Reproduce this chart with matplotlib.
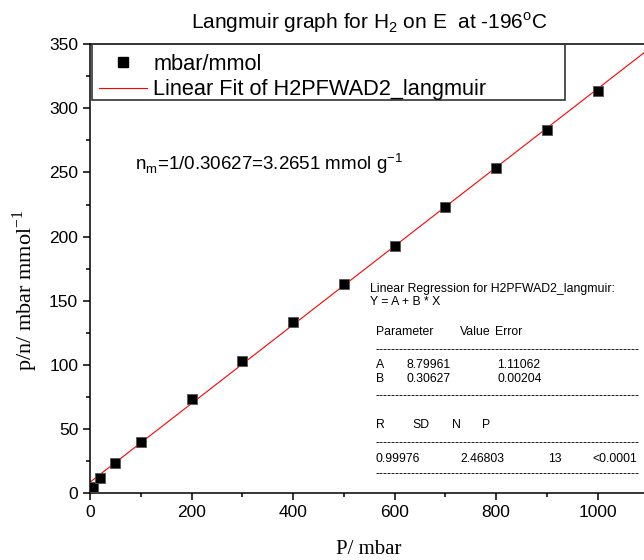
import numpy as np
import matplotlib
matplotlib.use("Agg")
from matplotlib import pyplot as plt
from matplotlib.patches import Rectangle
from matplotlib.ticker import MultipleLocator

plt.rcParams['font.family'] = ['Liberation Sans', 'DejaVu Sans']

# pressure (mbar) and p/n (mbar/mmol)
pressure = [5, 20, 50, 100, 200, 300, 400, 500, 600, 700, 800, 900, 1000]
p_over_n = [4.8, 12.3, 24.0, 40.3, 73.6, 103.5, 133.8, 162.9, 192.8, 223.4, 253.3, 283.1, 313.7]

# fit results
A, A_err = 8.79961, 1.11062
B, B_err = 0.30627, 0.00204
R, SD, N, P = 0.99976, 2.46803, 13, "<0.0001"

fig = plt.figure(figsize=(6.44, 5.6), dpi=100)
ax = fig.add_axes([0.1398, 0.1188, 0.8668, 0.8027])

xfit = np.array([0, 1100])
ax.plot(xfit, A + B * xfit, color="red", lw=0.8, zorder=2)
ax.plot(pressure, p_over_n, "s", color="black", mec="#555555", mew=0.6, ms=7, zorder=3)

ax.set_xlim(0, 1100)
ax.set_ylim(0, 350)
ax.xaxis.set_major_locator(MultipleLocator(200))
ax.xaxis.set_minor_locator(MultipleLocator(100))
ax.yaxis.set_major_locator(MultipleLocator(50))
ax.yaxis.set_minor_locator(MultipleLocator(25))
ax.tick_params(which="both", direction="out", width=1.1, labelsize=12.5, top=False, right=False)
ax.tick_params(which="major", length=5)
ax.tick_params(which="minor", length=3)
ax.set_xticks([0, 200, 400, 600, 800, 1000])
for s in ax.spines.values():
    s.set_linewidth(1.1)

ax.set_xlabel("P/ mbar", family="Liberation Serif", fontsize=15, labelpad=14)
fig.text(0.039, 0.482, r"p/n/ mbar mmol$^{\mathregular{-1}}$", family="Liberation Serif",
         fontsize=16, rotation=90, ha="center", va="center")
fig.text(0.573, 0.948, r"Langmuir graph for H$_{\mathregular{2}}$ on E  at -196$^{\mathregular{o}}$C",
         ha="center", va="baseline", fontsize=15)

# legend with its own frame
ax.add_patch(Rectangle((4, 306.5), 932, 43.5, fill=False, ec="#333333", lw=1.2, zorder=4))
handles = [plt.Line2D([], [], ls="none", marker="s", color="black", ms=7),
           plt.Line2D([], [], color="red", lw=0.8)]
ax.legend(handles, ["mbar/mmol", "Linear Fit of H2PFWAD2_langmuir"], frameon=False,
          loc="upper left", bbox_to_anchor=(-0.001, 1.0), fontsize=15.7, handlelength=2.2,
          handletextpad=0.28, labelspacing=0.2, borderpad=0.1, borderaxespad=0.35)

ax.text(88, 257, r"n$_{\mathregular{m}}$=1/0.30627=3.2651 mmol g$^{\mathregular{-1}}$",
        fontsize=13.5, va="center")

# regression report
fs = 8.8
dash = "-" * 66
ax.text(552, 159, "Linear Regression for H2PFWAD2_langmuir:", fontsize=fs, va="center")
ax.text(552, 149, "Y = A + B * X", fontsize=fs, va="center")
ax.text(563, 126, "Parameter", fontsize=fs, va="center")
ax.text(729, 126, "Value", fontsize=fs, va="center")
ax.text(798, 126, "Error", fontsize=fs, va="center")
ax.text(563, 112, dash, fontsize=fs, va="center")
for y, name, val, err in [(100, "A", A, A_err), (89.5, "B", B, B_err)]:
    ax.text(563, y, name, fontsize=fs, va="center")
    ax.text(623, y, f"{val:.5f}", fontsize=fs, va="center")
    ax.text(802, y, f"{err:.5f}", fontsize=fs, va="center")
ax.text(563, 75.5, dash, fontsize=fs, va="center")
for x, s in [(563, "R"), (636, "SD"), (713, "N"), (772, "P")]:
    ax.text(x, 53.5, s, fontsize=fs, va="center")
ax.text(563, 39, dash, fontsize=fs, va="center")
for x, s in [(563, f"{R:.5f}"), (729, f"{SD:.5f}"), (902, str(N)), (989, P)]:
    ax.text(x, 27, s, fontsize=fs, va="center")
ax.text(563, 15, dash, fontsize=fs, va="center")

fig.savefig("out.png", dpi=100)
